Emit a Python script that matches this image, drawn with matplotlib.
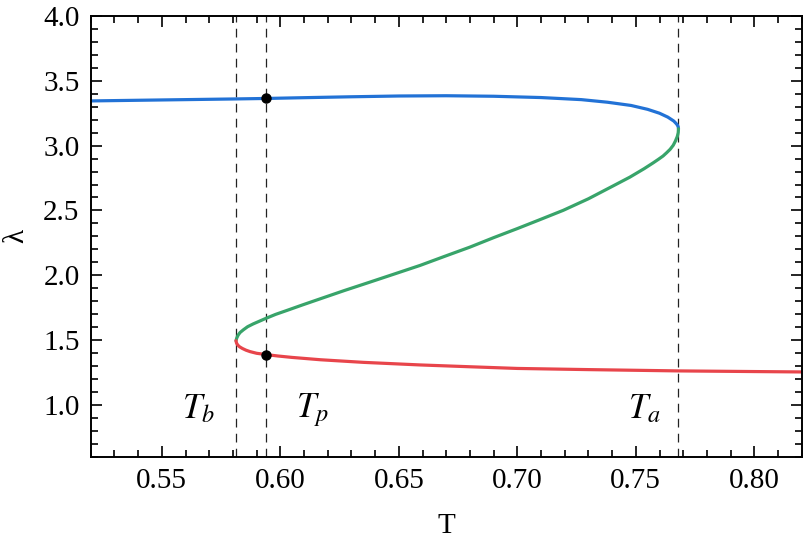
import numpy as np
import matplotlib
matplotlib.use("Agg")
import matplotlib.pyplot as plt
from matplotlib.ticker import MultipleLocator

plt.rcParams['font.family'] = ['Liberation Serif', 'DejaVu Serif']
plt.rcParams['mathtext.fontset'] = 'stix'

# upper branch (blue), from the fold at T_a going left
blue_T = [0.768, 0.7679, 0.7675, 0.7668, 0.766, 0.7635, 0.760, 0.755, 0.748, 0.738, 0.727,
          0.710, 0.690, 0.670, 0.650, 0.630, 0.610, 0.594, 0.580, 0.560, 0.540, 0.520]
blue_lam = [3.13, 3.145, 3.16, 3.175, 3.19, 3.22, 3.25, 3.28, 3.31, 3.335, 3.355,
            3.371, 3.381, 3.385, 3.383, 3.377, 3.370, 3.364, 3.360, 3.355, 3.350, 3.345]

# middle branch (green), from T_a down to T_b
green_T = [0.768, 0.7679, 0.7675, 0.7667, 0.7658, 0.7645, 0.763, 0.7615, 0.7595, 0.7574,
           0.7535, 0.7475, 0.7405, 0.730, 0.7194, 0.709, 0.700, 0.690, 0.680, 0.6695,
           0.659, 0.6485, 0.6378, 0.627, 0.6168, 0.6095, 0.6027, 0.598, 0.594, 0.5886,
           0.5862, 0.5844, 0.583, 0.5822, 0.5816, 0.5813]
green_lam = [3.13, 3.10, 3.07, 3.035, 3.003, 2.972, 2.945, 2.92, 2.894, 2.868,
             2.822, 2.757, 2.69, 2.59, 2.501, 2.425, 2.36, 2.29, 2.217, 2.147,
             2.076, 2.012, 1.947, 1.882, 1.818, 1.772, 1.728, 1.698, 1.668, 1.625,
             1.603, 1.579, 1.558, 1.538, 1.515, 1.495]

# lower branch (red), from T_b to the right
red_T = [0.5813, 0.5815, 0.5820, 0.5828, 0.584, 0.5855, 0.5872, 0.590, 0.594,
         0.599, 0.605, 0.617, 0.635, 0.659, 0.680, 0.700, 0.730, 0.768, 0.800, 0.820]
red_lam = [1.495, 1.478, 1.462, 1.448, 1.435, 1.422, 1.411, 1.398, 1.388,
           1.377, 1.366, 1.348, 1.328, 1.308, 1.294, 1.281, 1.272, 1.262, 1.257, 1.254]

T_lines = [0.5813, 0.594, 0.768]
dots_T = [0.594, 0.594]
dots_lam = [3.364, 1.388]

labels = [r'$T_b$', r'$T_p$', r'$T_a$']
label_T = [0.5655, 0.6135, 0.7535]
label_lam = [0.96, 0.96, 0.96]

fig = plt.figure(figsize=(8.05, 5.45), dpi=100)
ax = fig.add_axes([0.1127, 0.162, 0.8832, 0.8086])

for t in T_lines:
    ax.axvline(t, color='#222222', lw=0.9, ls=(0, (7, 5)), zorder=1)

ax.plot(blue_T, blue_lam, color='#2272d6', lw=2.3, solid_capstyle='round', zorder=2)
ax.plot(green_T, green_lam, color='#38a46a', lw=2.3, solid_capstyle='round', zorder=2)
ax.plot(red_T, red_lam, color='#e8454b', lw=2.3, solid_capstyle='round', zorder=2)
ax.plot(dots_T, dots_lam, 'o', color='black', ms=6.5, zorder=3)

for s, x, y in zip(labels, label_T, label_lam):
    ax.text(x, y, s, fontsize=25, ha='center', va='center')

ax.set_xlim(0.52, 0.82)
ax.set_ylim(0.6, 4.0)
ax.xaxis.set_major_locator(MultipleLocator(0.05))
ax.xaxis.set_minor_locator(MultipleLocator(0.01))
ax.yaxis.set_major_locator(MultipleLocator(0.5))
ax.yaxis.set_minor_locator(MultipleLocator(0.1))
ax.xaxis.set_major_formatter(plt.FormatStrFormatter('%.2f'))
ax.yaxis.set_major_formatter(plt.FormatStrFormatter('%.1f'))
ax.tick_params(which='both', direction='in', top=True, right=True, labelsize=21, width=1.2)
ax.tick_params(which='major', length=8, pad=8)
ax.tick_params(which='minor', length=5)
for sp in ax.spines.values():
    sp.set_linewidth(1.4)

ax.set_xlabel('T', fontsize=21, labelpad=14)
ax.set_ylabel('λ', fontsize=21, labelpad=10)

fig.savefig('out.png', dpi=100)
